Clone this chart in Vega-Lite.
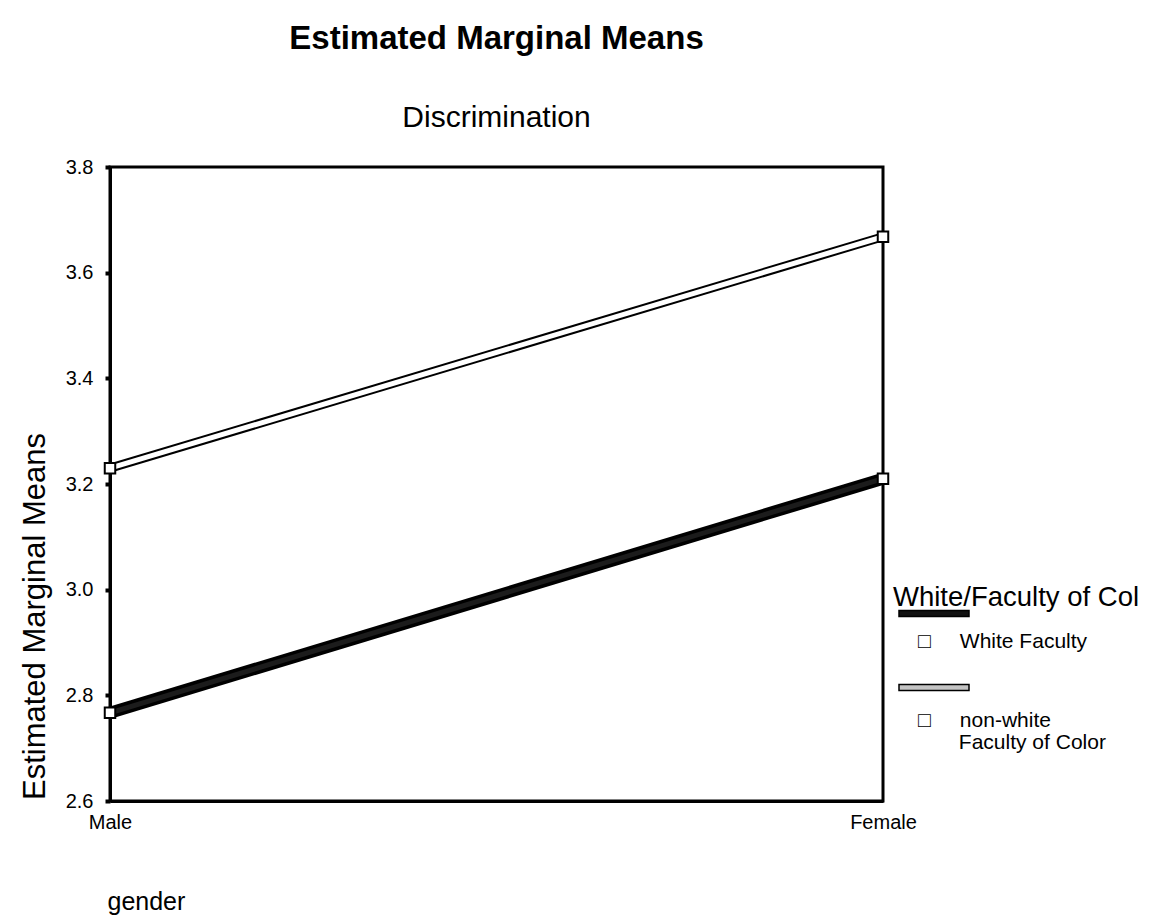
{
  "$schema": "https://vega.github.io/schema/vega-lite/v6.json",
  "width": 773,
  "height": 634,
  "autosize": {"type": "none"},
  "padding": {"left": 110, "top": 167, "right": 268, "bottom": 116},
  "background": "white",
  "config": {
    "font": "Liberation Sans",
    "view": {"stroke": "black", "strokeWidth": 3},
    "axis": {"labelColor": "black", "titleColor": "black", "domainColor": "black", "tickColor": "black", "labelFont": "Liberation Sans", "titleFont": "Liberation Sans", "titleFontWeight": "normal", "grid": false}
  },
  "title": {
    "text": "Estimated Marginal Means",
    "subtitle": "Discrimination",
    "anchor": "middle",
    "frame": "group",
    "font": "Liberation Sans",
    "fontSize": 33,
    "fontWeight": "bold",
    "color": "black",
    "subtitleFont": "Liberation Sans",
    "subtitleFontSize": 30,
    "subtitleColor": "black",
    "subtitlePadding": 47,
    "offset": 24
  },
  "data": {
    "values": [
      {"gender": "Male", "group": "White Faculty", "mean": 2.767},
      {"gender": "Female", "group": "White Faculty", "mean": 3.21},
      {"gender": "Male", "group": "Faculty of Color", "mean": 3.23},
      {"gender": "Female", "group": "Faculty of Color", "mean": 3.668}
    ]
  },
  "encoding": {
    "x": {
      "field": "gender",
      "type": "nominal",
      "sort": ["Male", "Female"],
      "scale": {"type": "point", "padding": 0},
      "axis": {
        "title": "gender",
        "labelAngle": 0,
        "labelFontSize": 20,
        "labelPadding": 11,
        "ticks": false,
        "domainWidth": 3,
        "titleFontSize": 25,
        "titleAnchor": "start",
        "titleAlign": "left",
        "titleBaseline": "alphabetic",
        "titleX": -3,
        "titleY": 108
      }
    },
    "y": {
      "field": "mean",
      "type": "quantitative",
      "scale": {"domain": [2.6, 3.8], "nice": false, "zero": false},
      "axis": {
        "title": "Estimated Marginal Means",
        "values": [2.6, 2.8, 3.0, 3.2, 3.4, 3.6, 3.8],
        "format": ".1f",
        "labelFontSize": 20,
        "labelPadding": 12,
        "tickSize": 5,
        "tickWidth": 4,
        "domainWidth": 3,
        "titleFontSize": 31,
        "titleX": -59,
        "titleY": 449,
        "titleAlign": "center",
        "titleBaseline": "bottom"
      }
    }
  },
  "layer": [
    {
      "mark": {"type": "line", "strokeWidth": 9},
      "encoding": {
        "color": {
          "field": "group",
          "type": "nominal",
          "scale": {"domain": ["White Faculty", "Faculty of Color"], "range": ["#000000", "#000000"]},
          "legend": {
            "orient": "none",
            "legendX": 783,
            "legendY": 417,
            "title": "White/Faculty of Col",
            "titleFont": "Liberation Sans",
            "titleFontSize": 27.5,
            "titleFontWeight": "normal",
            "titleColor": "black",
            "titleLimit": 400,
            "titlePadding": -34,
            "symbolType": "M-1,-0.086H1V0.086H-1Z",
            "symbolSize": 4900,
            "symbolStrokeWidth": 1.5,
            "symbolOffset": 5,
            "rowPadding": 0,
            "labelFont": "Liberation Sans",
            "labelFontSize": 21,
            "labelColor": "black",
            "labelBaseline": "top",
            "labelOffset": -52,
            "labelLimit": 300,
            "labelExpr": "datum.value === 'White Faculty' ? ['', '□\u00a0\u00a0\u00a0\u00a0\u00a0White Faculty'] : ['', '□\u00a0\u00a0\u00a0\u00a0\u00a0non-white', '\u200b\u00a0\u00a0\u00a0\u00a0\u00a0\u00a0\u00a0Faculty of Color']",
            "encode": {
              "symbols": {
                "update": {
                  "fill": {"signal": "datum.value === 'White Faculty' ? '#111111' : '#c4c4c4'"}
                }
              },
              "labels": {
                "update": {"lineHeight": {"signal": "datum.value === 'White Faculty' ? 17 : 22"}}
              }
            }
          }
        }
      }
    },
    {
      "transform": [{"filter": "datum.group === 'White Faculty'"}],
      "mark": {"type": "line", "color": "black", "strokeWidth": 12},
      "encoding": {}
    },
    {
      "transform": [{"filter": "datum.group === 'White Faculty'"}],
      "mark": {"type": "line", "color": "#1c1c1c", "strokeWidth": 5},
      "encoding": {}
    },
    {
      "transform": [{"filter": "datum.group === 'Faculty of Color'"}],
      "mark": {"type": "line", "color": "#ffffff", "strokeWidth": 5},
      "encoding": {}
    },
    {
      "mark": {"type": "point", "shape": "square", "filled": true, "fill": "white", "stroke": "black", "strokeWidth": 2, "size": 110, "opacity": 1},
      "encoding": {"detail": {"field": "group"}}
    }
  ]
}
